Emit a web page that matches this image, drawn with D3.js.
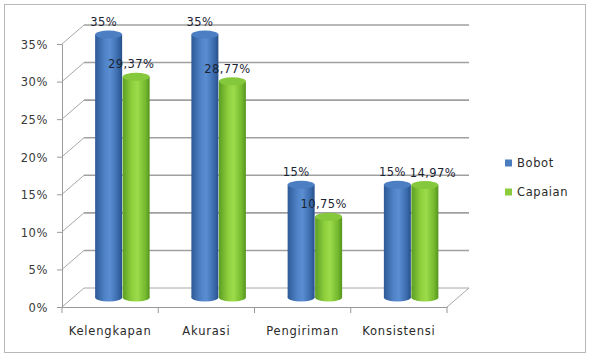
<!DOCTYPE html>
<html>
<head>
<meta charset="utf-8">
<script src="https://cdn.jsdelivr.net/npm/d3@7"></script>
<style>
  html, body { margin:0; padding:0; background:#fff; }
  svg text { font-family: "DejaVu Sans", sans-serif; }
</style>
</head>
<body>
<svg id="chart" width="592" height="359"></svg>
<script>
const W = 592, H = 359;

// data
const categories = ['Kelengkapan', 'Akurasi', 'Pengiriman', 'Konsistensi'];
const bobot      = [35, 35, 15, 15];
const capaian    = [29.37, 28.77, 10.75, 14.97];
const seriesNames = ['Bobot', 'Capaian'];
const yTicks     = [0, 5, 10, 15, 20, 25, 30, 35];

// 3D depth of the plot box
const DX = 22, DY = -19;
const front = { left:62, right:447, bottom:307, top:44 };

const svg = d3.select('#chart');
const defs = svg.append('defs');

// cylinder shading
function cylGrad(id, stops) {
  const g = defs.append('linearGradient').attr('id', id)
    .attr('x1','0%').attr('x2','100%').attr('y1','0%').attr('y2','0%');
  stops.forEach(([o,c]) => g.append('stop').attr('offset', o).attr('stop-color', c));
}
cylGrad('g-blue',  [['0%','#2d5a96'],['35%','#4f82c6'],['55%','#5a8ed2'],['85%','#3a6aac'],['100%','#27508a']]);
cylGrad('g-green', [['0%','#5c9e22'],['35%','#8fd03e'],['55%','#9cdb4a'],['85%','#74b82e'],['100%','#55941e']]);
const COLORS = {
  side: ['url(#g-blue)', 'url(#g-green)'],
  top:  ['#4c7ec4', '#86c83c'],
  key:  ['#4a7cc0', '#8ccc3c']
};

// frame
svg.append('rect')
  .attr('x', 4.5).attr('y', 4.5).attr('width', 581).attr('height', 348)
  .attr('fill', '#fff').attr('stroke', '#b8b8b8').attr('stroke-width', 1);

const y = d3.scaleLinear().domain([0, 35]).range([front.bottom, front.top]);
const x = d3.scaleBand().domain(categories).range([front.left, front.right]);
const xs = d3.scaleBand().domain(seriesNames).range([0, 55]);

// back wall gridlines + side wall diagonals
const grid = svg.append('g');
yTicks.forEach(t => {
  grid.append('line')
    .attr('x1', front.left + DX).attr('x2', front.right + DX)
    .attr('y1', y(t) + DY).attr('y2', y(t) + DY)
    .attr('stroke', t === 0 ? '#a8a8a8' : '#a0a0a0')
    .attr('stroke-width', t === 0 ? 1 : 1.6);
  grid.append('line')
    .attr('x1', front.left).attr('y1', y(t))
    .attr('x2', front.left + DX).attr('y2', y(t) + DY)
    .attr('stroke', '#a8a8a8').attr('stroke-width', 1);
});

// floor
grid.append('line')
  .attr('x1', front.right).attr('y1', y(0))
  .attr('x2', front.right + DX).attr('y2', y(0) + DY)
  .attr('stroke', '#a8a8a8').attr('stroke-width', 1);

// y axis
const yAxis = svg.append('g').attr('transform', `translate(${front.left},0)`)
  .call(d3.axisLeft(y).tickValues(yTicks).tickSize(5).tickFormat(d => d + '%'));
yAxis.select('.domain').attr('stroke', '#9a9a9a');
yAxis.selectAll('.tick line').attr('stroke', '#9a9a9a');
yAxis.selectAll('.tick text')
  .attr('x', -14).attr('dy', '0.38em')
  .attr('font-size', 11.5).attr('fill', '#3a3a3a')
  .attr('font-family', '"DejaVu Sans", sans-serif')
  .style('letter-spacing', '0.6px');

// x axis
const xAxis = svg.append('g').attr('transform', `translate(0,${front.bottom})`)
  .call(d3.axisBottom(x).tickSize(0).tickFormat(d => d));
xAxis.select('.domain').attr('stroke', '#9a9a9a');
xAxis.selectAll('.tick text')
  .attr('y', 20).attr('x', 0)
  .attr('font-size', 11.5).attr('fill', '#2a2a2a')
  .attr('font-family', '"DejaVu Sans", sans-serif')
  .style('letter-spacing', '0.8px');
// category boundary marks
const bounds = categories.map(c => x(c)).concat([front.right]);
svg.append('g').selectAll('line').data(bounds).join('line')
  .attr('x1', d => d).attr('x2', d => d)
  .attr('y1', front.bottom).attr('y2', front.bottom + 6)
  .attr('stroke', '#9a9a9a');

// cylinders, drawn at mid depth
const rows = [];
categories.forEach((c, i) => {
  rows.push({ cat:c, s:0, v:bobot[i] });
  rows.push({ cat:c, s:1, v:capaian[i] });
});
const BW = 27, RY = 4;
const barX = d => x(d.cat) + x.bandwidth() / 2 - 15 + xs(seriesNames[d.s]);
const midY = v => y(v) + DY / 2;

const bars = svg.append('g').selectAll('g').data(rows).join('g');
bars.append('ellipse')
  .attr('cx', d => barX(d) + BW / 2).attr('cy', midY(0))
  .attr('rx', BW / 2).attr('ry', RY)
  .attr('fill', d => COLORS.side[d.s]);
bars.append('rect')
  .attr('x', d => barX(d)).attr('y', d => midY(d.v))
  .attr('width', BW).attr('height', d => midY(0) - midY(d.v))
  .attr('fill', d => COLORS.side[d.s]);
bars.append('ellipse')
  .attr('cx', d => barX(d) + BW / 2).attr('cy', d => midY(d.v))
  .attr('rx', BW / 2).attr('ry', RY)
  .attr('fill', d => COLORS.top[d.s]);

// data labels
const fmt = v => String(v).replace('.', ',') + '%';
const labels = svg.append('g').selectAll('text').data(rows).join('text')
  .attr('x', d => barX(d) + BW / 2 - 5)
  .attr('y', d => y(d.v) + DY + 1)
  .attr('text-anchor', 'middle')
  .attr('font-size', 11.5).attr('fill', '#1c2433')
  .style('letter-spacing', '0.4px')
  .text(d => fmt(d.v));

// push a label right when it collides with the one before it
const nodes = labels.nodes();
for (let i = 1; i < nodes.length; i++) {
  const a = nodes[i - 1].getBBox(), b = nodes[i].getBBox();
  const overlapY = a.y < b.y + b.height && b.y < a.y + a.height;
  if (overlapY && b.x < a.x + a.width + 4) {
    const shift = a.x + a.width + 4 - b.x;
    d3.select(nodes[i]).attr('x', +nodes[i].getAttribute('x') + shift);
  }
}

// legend
const leg = svg.append('g').selectAll('g').data(seriesNames).join('g')
  .attr('transform', (d, i) => `translate(505,${163 + i * 29})`);
leg.append('rect').attr('x', 0).attr('y', -3.5).attr('width', 7).attr('height', 7)
  .attr('fill', (d, i) => COLORS.key[i]);
leg.append('text').attr('x', 12).attr('dy', '0.36em')
  .attr('font-size', 11.5).attr('fill', '#2a2a2a')
  .style('letter-spacing', '0.6px')
  .text(d => d);
</script>
</body>
</html>
